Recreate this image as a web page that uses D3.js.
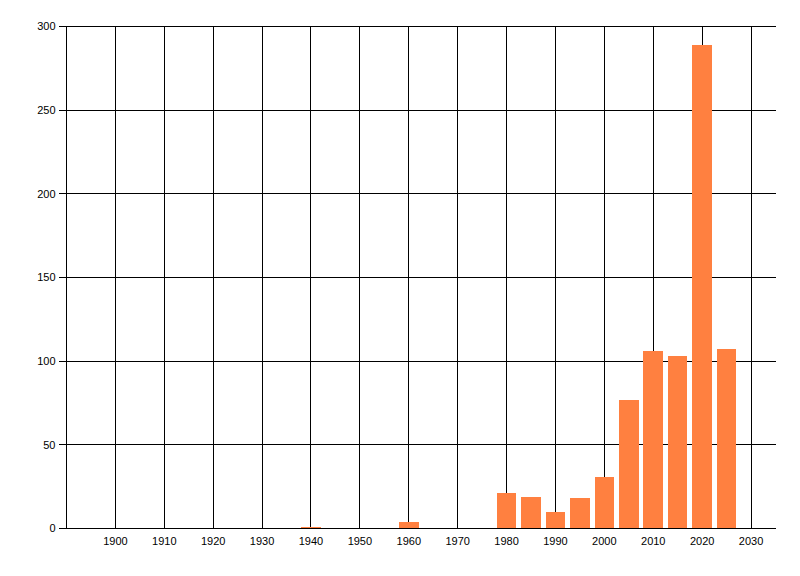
<!DOCTYPE html>
<html>
<head>
<meta charset="utf-8">
<script src="https://cdn.jsdelivr.net/npm/d3@7"></script>
<style>
  html, body { margin: 0; padding: 0; background: #fff; }
  svg { display: block; }
  text { font-family: "Liberation Sans", Arial, sans-serif; font-size: 11px; fill: #000; }
</style>
</head>
<body>
<svg></svg>
<script>
// values
const years = [1940, 1960, 1980, 1985, 1990, 1995, 2000, 2005, 2010, 2015, 2020, 2025];
const counts = [1, 4, 21, 19, 10, 18, 31, 77, 106, 103, 289, 107];
const xTicks = [1900, 1910, 1920, 1930, 1940, 1950, 1960, 1970, 1980, 1990, 2000, 2010, 2020, 2030];
const yTicks = [0, 50, 100, 150, 200, 250, 300];

function Start() {
  const width = 800;
  const height = 576;
  const left = 66.5, right = 775.5, top = 26.5, bottom = 528.5;

  const svg = d3.select("svg").attr("width", width).attr("height", height);

  const x = d3.scaleLinear().domain([1890, 2035]).range([left, right]);
  const y = d3.scaleLinear().domain([0, 300]).range([bottom, top]);

  // 水平格線 + 刻度
  svg.append("g")
    .selectAll("line")
    .data(yTicks)
    .join("line")
    .attr("x1", left - 8)
    .attr("x2", right)
    .attr("y1", (d) => y(d))
    .attr("y2", (d) => y(d))
    .attr("stroke", "#000")
    .attr("shape-rendering", "crispEdges");

  // 垂直格線（含左軸）
  svg.append("g")
    .selectAll("line")
    .data([1890].concat(xTicks))
    .join("line")
    .attr("x1", (d) => x(d))
    .attr("x2", (d) => x(d))
    .attr("y1", top)
    .attr("y2", bottom)
    .attr("stroke", "#000")
    .attr("shape-rendering", "crispEdges");

  // 長條
  svg.append("g")
    .attr("fill", "#ff8040")
    .selectAll("rect")
    .data(years)
    .join("rect")
    .attr("x", (d) => x(d - 2))
    .attr("width", (d) => x(d + 2) - x(d - 2))
    .attr("y", (d, i) => y(counts[i]))
    .attr("height", (d, i) => y(0) - y(counts[i]))
    .attr("shape-rendering", "crispEdges");

  // x 軸線
  svg.append("line")
    .attr("x1", left - 8)
    .attr("x2", right)
    .attr("y1", y(0))
    .attr("y2", y(0))
    .attr("stroke", "#000")
    .attr("shape-rendering", "crispEdges");

  // y 標籤
  svg.append("g")
    .selectAll("text")
    .data(yTicks)
    .join("text")
    .attr("x", left - 11)
    .attr("y", (d) => y(d))
    .attr("dy", "0.35em")
    .attr("text-anchor", "end")
    .text((d) => d);

  // x 標籤
  svg.append("g")
    .selectAll("text")
    .data(xTicks)
    .join("text")
    .attr("x", (d) => x(d))
    .attr("y", 545)
    .attr("text-anchor", "middle")
    .text((d) => d);

  return svg.node();
}
Start();
</script>
</body>
</html>
